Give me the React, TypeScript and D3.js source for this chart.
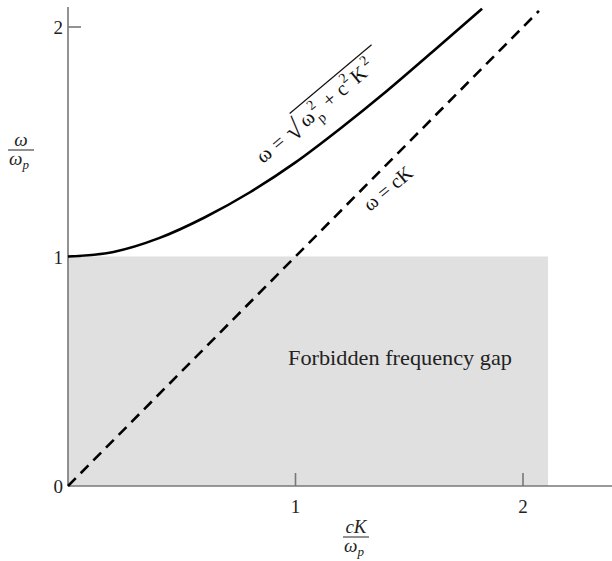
import React from "react";
import * as d3 from "d3";

const curveK = [0, 0.2, 0.4, 0.6, 0.8, 1.0, 1.2, 1.4, 1.6, 1.82];
const curveW = [1.0, 1.02, 1.08, 1.17, 1.28, 1.41, 1.56, 1.72, 1.89, 2.08];
const lightK = [0, 2.07];
const lightW = [0, 2.07];
const gapK = [0, 2.11];
const gapW = [0, 1];
const xTicks = [1, 2];
const yTicks = [1, 2];
const gapLabel = "Forbidden frequency gap";

const W = 612, H = 561;
const FONT = "'Liberation Serif', 'DejaVu Serif', serif";

export default function App() {
  const x = d3.scaleLinear().domain([0, 2]).range([68, 523]);
  const y = d3.scaleLinear().domain([0, 2]).range([486, 27]);
  const line = d3.line<number>().x((_, i) => x(curveK[i])).y((d) => y(d)).curve(d3.curveMonotoneX);
  const dashed = d3.line<number>().x((_, i) => x(lightK[i])).y((d) => y(d));
  const axisColor = "#777";
  return (
    <svg width={W} height={H} style={{ position: "absolute", left: 0, top: 0 }} fontFamily={FONT}>
      <rect x={0} y={0} width={W} height={H} fill="#fff" />
      <rect x={x(gapK[0])} y={y(gapW[1])} width={x(gapK[1]) - x(gapK[0])} height={y(gapW[0]) - y(gapW[1])} fill="#e0e0e0" />
      {/* axes */}
      <line x1={x(0)} y1={7} x2={x(0)} y2={y(0)} stroke={axisColor} strokeWidth={1.6} />
      <line x1={x(0)} y1={y(0)} x2={W} y2={y(0)} stroke={axisColor} strokeWidth={1.6} />
      {xTicks.map((t) => (
        <g key={"xt" + t}>
          <line x1={x(t)} x2={x(t)} y1={y(0)} y2={y(0) - 13} stroke={axisColor} strokeWidth={1.6} />
          <text x={x(t)} y={y(0) + 27} textAnchor="middle" fontSize={19} fill="#222">{t}</text>
        </g>
      ))}
      {yTicks.map((t) => (
        <g key={"yt" + t}>
          <line x1={x(0)} x2={x(0) + 13} y1={y(t)} y2={y(t)} stroke={axisColor} strokeWidth={1.6} />
          <text x={x(0) - 5} y={y(t) + 7} textAnchor="end" fontSize={19} fill="#222">{t}</text>
        </g>
      ))}
      <text x={x(0) - 5} y={y(0) + 7} textAnchor="end" fontSize={19} fill="#222">0</text>
      {/* curves */}
      <path d={dashed(lightW) || ""} fill="none" stroke="#000" strokeWidth={2.6} strokeDasharray="11,7" />
      <path d={line(curveW) || ""} fill="none" stroke="#000" strokeWidth={2.6} />
      {/* gap label */}
      <text x={288} y={365} fontSize={21} fill="#222" textLength={224} lengthAdjust="spacingAndGlyphs">{gapLabel}</text>
      {/* x axis label */}
      <g fontStyle="italic" fontSize={19} fill="#222">
        <text x={356} y={533} textAnchor="middle">cK</text>
        <line x1={343} x2={369} y1={537} y2={537} stroke="#222" strokeWidth={1} />
        <text x={354} y={552} textAnchor="middle">ω<tspan fontSize={13} dy={4}>p</tspan></text>
      </g>
      {/* y axis label */}
      <g fontStyle="italic" fontSize={19} fill="#222">
        <text x={21} y={146} textAnchor="middle">ω</text>
        <line x1={8} x2={34} y1={150} y2={150} stroke="#222" strokeWidth={1} />
        <text x={19} y={165} textAnchor="middle">ω<tspan fontSize={13} dy={4}>p</tspan></text>
      </g>
      {/* curve annotation */}
      <g transform="translate(263,164) rotate(-40) scale(1.08)" fontSize={19} fill="#111">
        <text x={0} y={0}>ω</text>
        <text x={18} y={0}>=</text>
        <text x={35} y={3} fontSize={26}>√</text>
        <line x1={49} x2={148} y1={-20} y2={-20} stroke="#111" strokeWidth={1.1} />
        <text x={52} y={0}>ω</text>
        <text x={66} y={6} fontSize={13}>p</text>
        <text x={66} y={-9} fontSize={13}>2</text>
        <text x={80} y={0}>+</text>
        <text x={96} y={0}>c</text>
        <text x={105} y={-9} fontSize={13}>2</text>
        <text x={114} y={0}>K</text>
        <text x={130} y={-9} fontSize={13}>2</text>
      </g>
      <g transform="translate(370,212) rotate(-40)" fontSize={20} fill="#111">
        <text x={0} y={0}>ω = cK</text>
      </g>
    </svg>
  );
}
